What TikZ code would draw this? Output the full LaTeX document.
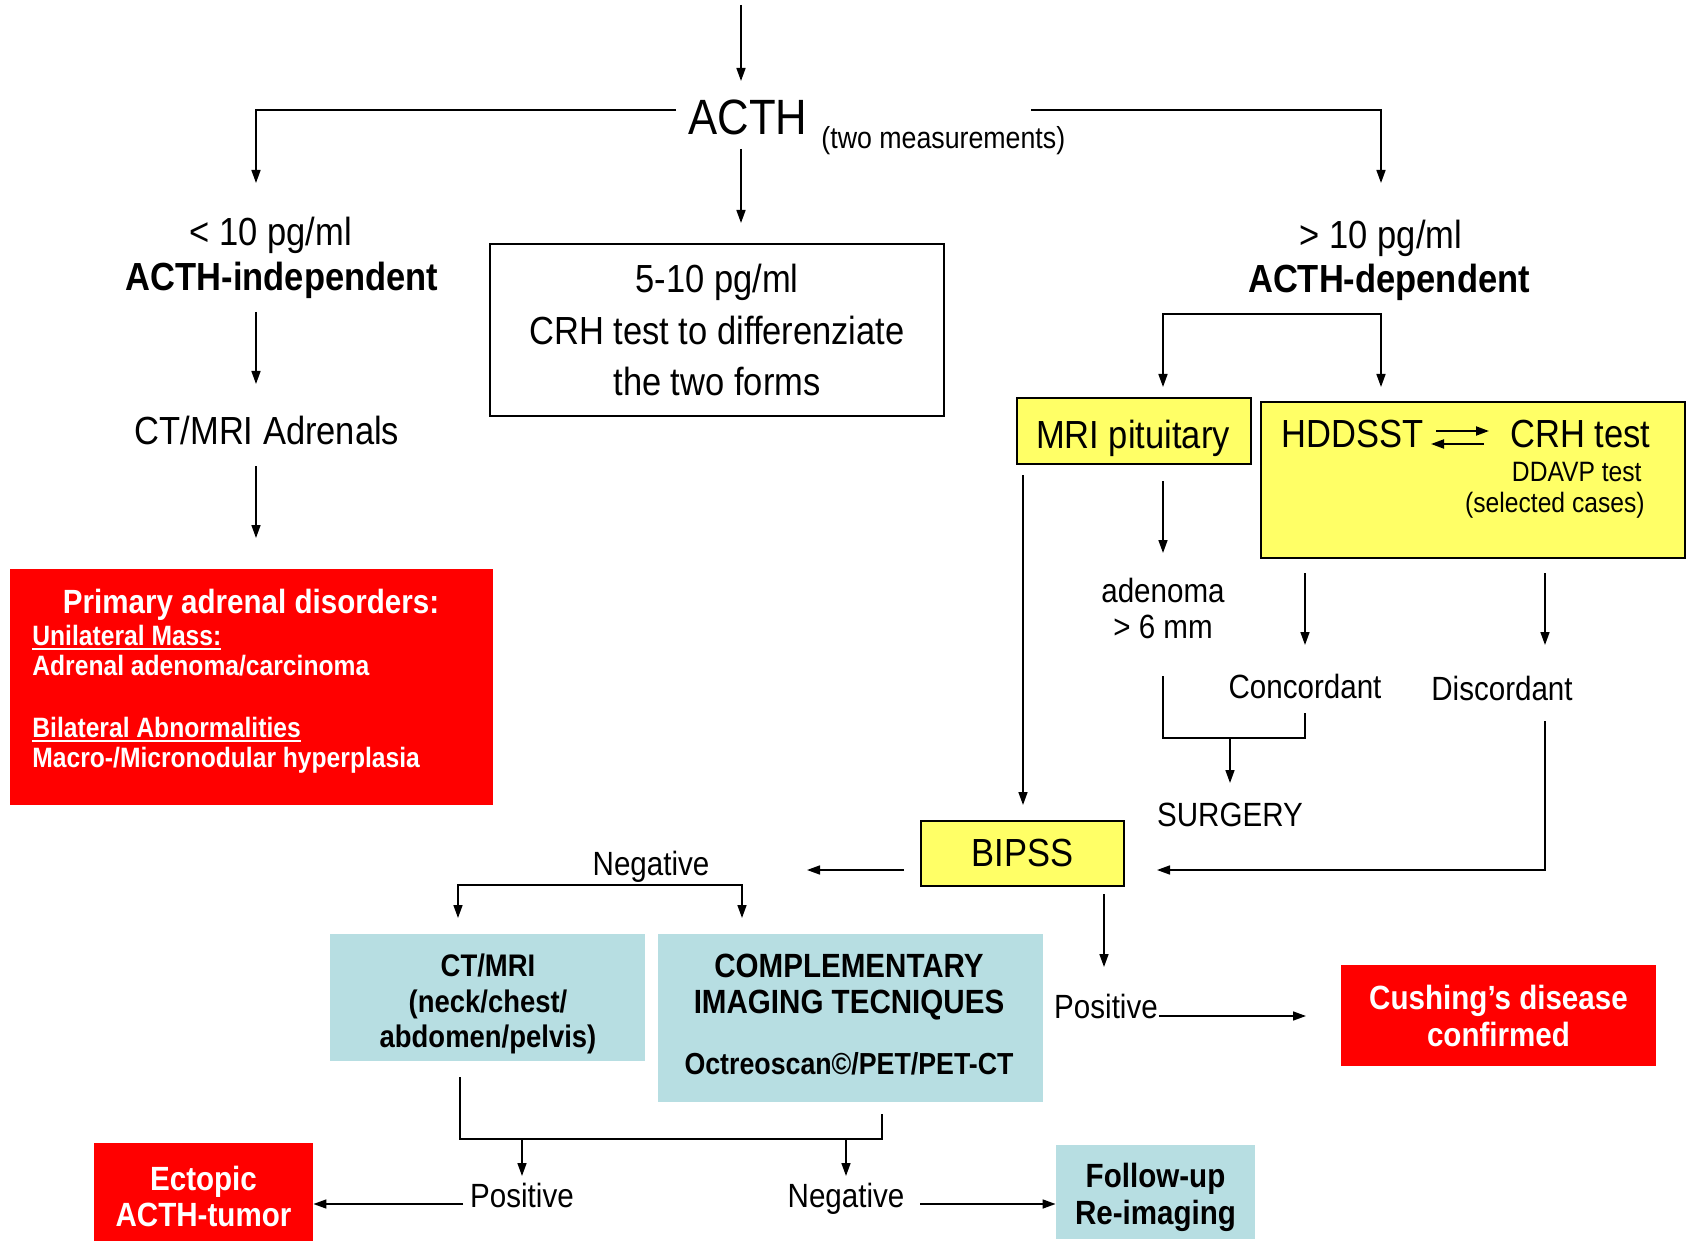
\documentclass[tikz,border=0pt]{standalone}
\usepackage{fontspec}
\setmainfont{Liberation Sans}[FakeStretch=0.88]
\usetikzlibrary{arrows.meta,calc}
\definecolor{boxred}{RGB}{255,0,0}
\definecolor{boxyellow}{RGB}{255,255,102}
\definecolor{boxblue}{RGB}{183,222,226}
\newcommand\fsA{\fontsize{24.8}{30}\selectfont}
\newcommand\fsB{\fontsize{19.6}{25.75}\selectfont}
\newcommand\fsC{\fontsize{16.8}{18.3}\selectfont}
\newcommand\fsD{\fontsize{14}{15}\selectfont}
\newcommand\fsE{\fontsize{15.2}{18}\selectfont}
\newcommand\fsF{\fontsize{15.6}{17.75}\selectfont}
\newcommand\ulbox[1]{\setbox0=\hbox{#1}\rlap{\rule[-2.6pt]{\wd0}{0.9pt}}\box0}
\begin{document}
\begin{tikzpicture}[x=0.5pt,y=-0.5pt,
  lbl/.style={inner sep=0pt, font=\fsB, text depth=0pt},
  txt/.style={inner sep=0pt, align=center},
  arr/.style={-{Triangle[length=6.5pt,width=4.5pt]}, line width=0.8pt},
  darr/.style={{Triangle[length=6.5pt,width=4.5pt]}-{Triangle[length=6.5pt,width=4.5pt]}, line width=0.8pt},
  ln/.style={line width=0.8pt},
  ybox/.style={draw=black, line width=1pt, fill=boxyellow, inner sep=0pt},
  wbox/.style={draw=black, line width=1pt, fill=white, inner sep=0pt},
  rbox/.style={fill=boxred, inner sep=0pt},
  bbox/.style={fill=boxblue, inner sep=0pt}]
\fill[white] (0,0) rectangle (1688,1241);
\useasboundingbox (0,0) rectangle (1688,1241);

% top
\coordinate (top) at (741,5);
\node[lbl, font=\fsA] (acth) at (748,117) {ACTH};
\node[lbl, font=\fsE, anchor=west] (twom) at (821,137) {(two measurements)};
\draw[arr] (top) -- (741,81);
\draw[arr] (676,110) -| (256,183);
\draw[arr] (1031,110) -| (1381,183);
\draw[arr] (741,149) -- (741,223);

% left column
\node[lbl] (lt10) at (271,231) {< 10 pg/ml};
\node[lbl, font=\fsB\bfseries] (indep) at (282,276) {ACTH-independent};
\draw[arr] (256,312) -- (256,384);
\node[lbl] (ctadr) at (267,430) {CT/MRI Adrenals};
\draw[arr] (256,466) -- (256,538);
\node[rbox, minimum width=241.5pt, minimum height=118pt] (prim) at (251.5,687) {};
\node[lbl, font=\fsC\bfseries, text=white, anchor=base] (primt) at (251,613) {Primary adrenal disorders:};
\node[lbl, font=\fsD\bfseries, text=white, anchor=base west] (uni) at (32,645) {\ulbox{Unilateral Mass:}};
\node[lbl, font=\fsD\bfseries, text=white, anchor=base west] (adca) at (32,675) {Adrenal adenoma/carcinoma};
\node[lbl, font=\fsD\bfseries, text=white, anchor=base west] (bil) at (32,737) {\ulbox{Bilateral Abnormalities}};
\node[lbl, font=\fsD\bfseries, text=white, anchor=base west] (macro) at (32,767) {Macro-/Micronodular hyperplasia};

% middle box
\node[wbox, minimum width=227pt, minimum height=86pt, align=center, font=\fsB] (crh) at (717,330) {5-10 pg/ml\\CRH test to differenziate\\the two forms};

% right column
\node[lbl] (gt10) at (1381,234) {> 10 pg/ml};
\node[lbl, font=\fsB\bfseries] (dep) at (1389,278) {ACTH-dependent};
\draw[darr] (1163,387) -- (1163,314) -- (1381,314) -- (1381,387);
\node[ybox, minimum width=117pt, minimum height=33pt] (mri) at (1134,431) {};
\node[lbl] (mrit) at (1133,434) {MRI pituitary};
\node[ybox, minimum width=212pt, minimum height=78pt] (hdd) at (1473,480) {};
\node[lbl, anchor=west] (hddt) at (1281,434) {HDDSST};
\node[lbl, anchor=west] (crht) at (1510,434) {CRH test};
\draw[arr, line width=1pt] (1436,431) -- (1489,431);
\draw[arr, line width=1pt] (1484,444) -- (1431,444);
\node[lbl, font=\fsD, anchor=east] (ddavp) at (1642,472) {DDAVP test};
\node[lbl, font=\fsD, anchor=east] (sel) at (1645,502) {(selected cases)};

\draw[arr] (1163,481) -- (1163,553);
\node[lbl, font=\fsC] (aden) at (1163,590) {adenoma};
\node[lbl, font=\fsC] (gt6) at (1163,627) {> 6 mm};
\draw[arr] (1023,475) -- (1023,805);
\draw[arr] (1305,573) -- (1305,645);
\draw[arr] (1545,573) -- (1545,645);
\node[lbl, font=\fsC] (conc) at (1305,686) {Concordant};
\node[lbl, font=\fsC] (disc) at (1502,688) {Discordant};
\draw[ln] (1163,676) -- (1163,738) -- (1305,738) -- (1305,713);
\draw[arr] (1230,738) -- (1230,783);
\node[lbl, font=\fsC] (surg) at (1230,815) {SURGERY};
\draw[arr] (1545,721) -- (1545,870) -- (1157,870);

% BIPSS
\node[ybox, minimum width=101.5pt, minimum height=32.5pt, font=\fsB] (bipss) at (1022.5,853.5) {BIPSS};
\draw[arr] (904,870) -- (807,870);
\node[lbl, font=\fsC] (neg1) at (651,863) {Negative};
\draw[darr] (458,918) -- (458,885) -- (742,885) -- (742,918);
\node[bbox, minimum width=157.5pt, minimum height=63.5pt] (ctmri) at (487.5,997.5) {};
\node[txt, font=\fsF\bfseries] (ctmrit) at (488,1004) {CT/MRI\\(neck/chest/\\abdomen/pelvis)};
\node[bbox, minimum width=192.5pt, minimum height=84pt] (comp) at (850.5,1018) {};
\node[txt, font=\fsC\bfseries] (compt) at (849,987) {COMPLEMENTARY\\IMAGING TECNIQUES};
\node[txt, font=\fsE\bfseries] (octr) at (849,1064) {Octreoscan©/PET/PET-CT};

\draw[arr] (1104,894) -- (1104,967);
\node[lbl, font=\fsC] (pos1) at (1106,1006) {Positive};
\draw[arr] (1159,1016) -- (1306,1016);
\node[rbox, minimum width=157.5pt, minimum height=50.5pt] (cush) at (1498.5,1015.5) {};
\node[txt, font=\fsC\bfseries, text=white] (cusht) at (1498.5,1016) {Cushing’s disease\\confirmed};

% bottom
\draw[ln] (460,1077) -- (460,1139) -- (882,1139) -- (882,1114);
\draw[arr] (522,1139) -- (522,1176);
\draw[arr] (846,1139) -- (846,1176);
\node[lbl, font=\fsC] (pos2) at (522,1195) {Positive};
\node[lbl, font=\fsC] (neg2) at (846,1195) {Negative};
\node[rbox, minimum width=109.5pt, minimum height=49pt] (ect) at (203.5,1192) {};
\node[txt, font=\fsC\bfseries, text=white] (ectt) at (203.5,1196.5) {Ectopic\\ACTH-tumor};
\node[bbox, minimum width=99.5pt, minimum height=47pt] (fol) at (1155.5,1192) {};
\node[txt, font=\fsC\bfseries] (folt) at (1155.5,1197.5) {Follow-up\\Re-imaging};
\draw[arr] (463,1204) -- (463,1204 -| ect.east);
\draw[arr] (920,1204) -- (920,1204 -| fol.west);
\end{tikzpicture}
\end{document}
